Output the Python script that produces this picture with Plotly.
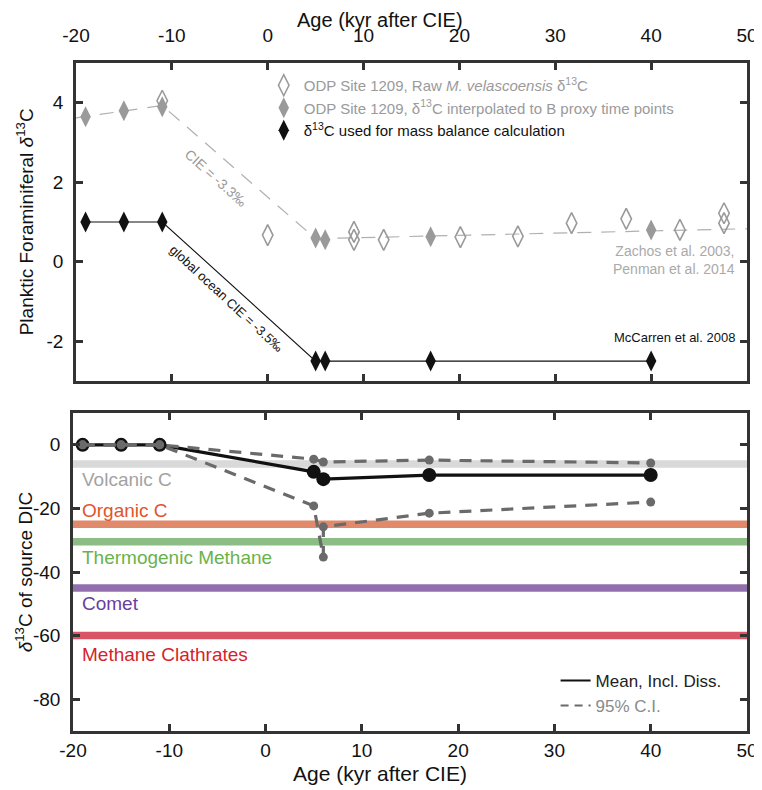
import plotly.graph_objects as go

# ---------------- Top panel data ----------------
raw_age = [-11.0, 0.0, 9.0, 9.0, 12.1, 20.1, 26.1, 31.7, 37.4, 43.0, 47.6, 47.6]
raw_d13c = [4.05, 0.67, 0.75, 0.55, 0.55, 0.62, 0.64, 0.97, 1.08, 0.80, 1.22, 0.97]

interp_age = [-19.0, -15.0, -11.0, 5.0, 6.0, 17.0, 40.0]
interp_d13c = [3.65, 3.80, 3.90, 0.60, 0.55, 0.63, 0.80]

used_age = [-19.0, -15.0, -11.0, 5.0, 6.0, 17.0, 40.0]
used_d13c = [1.0, 1.0, 1.0, -2.5, -2.5, -2.5, -2.5]

trend_age = [-20.0, -11.0, 5.0, 50.0]
trend_d13c = [3.62, 3.93, 0.58, 0.83]

# ---------------- Bottom panel data ----------------
mean_age = [-19.0, -15.0, -11.0, 5.0, 6.0, 17.0, 40.0]
mean_src = [0.0, 0.0, 0.0, -8.5, -10.8, -9.5, -9.5]

ci_up_age = [-19.0, -15.0, -11.0, 5.0, 6.0, 17.0, 40.0]
ci_up_src = [0.0, 0.0, 0.0, -4.5, -5.4, -4.8, -5.7]

ci_lo_age = [-19.0, -15.0, -11.0, 5.0, 6.0, 6.0, 17.0, 40.0]
ci_lo_src = [0.0, 0.0, 0.0, -19.2, -35.3, -25.8, -21.5, -18.0]

source_names = ["Volcanic C", "Organic C", "Thermogenic Methane", "Comet", "Methane Clathrates"]
source_values = [-6.0, -25.0, -30.5, -45.0, -60.0]
source_line_colors = ["#d9d9d9", "#e08a6b", "#8cbd84", "#9270ae", "#d95565"]
source_text_colors = ["#a3a3a3", "#e0552b", "#6ab24a", "#6a3d9e", "#d51f2b"]
source_label_offsets = [-4.8, 4.3, -5.0, -5.0, -5.8]   # label centre relative to line, in per-mil

x_ticks = [-20, -10, 0, 10, 20, 30, 40, 50]
x_tick_text = ["-20", "-10", "0", "10", "20", "30", "40", "50"]
top_y_ticks = [4, 2, 0, -2]
top_y_text = ["4", "2", "0", "-2"]
bot_y_ticks = [0, -20, -40, -60, -80]
bot_y_text = ["0", "-20", "-40", "-60", "-80"]

FONT = "Liberation Sans, Arial, sans-serif"
NARROW = "Liberation Sans Narrow, Liberation Sans, Arial, sans-serif"
AX = "#333333"

fig = go.Figure()

# top panel trend (dashed gray)
fig.add_trace(go.Scatter(x=trend_age, y=trend_d13c, mode="lines",
                         line=dict(color="#b0b0b0", width=1.2, dash="14px,10px"),
                         showlegend=False, xaxis="x", yaxis="y", hoverinfo="skip"))
# black used line
fig.add_trace(go.Scatter(x=used_age, y=used_d13c, mode="lines",
                         line=dict(color="#111111", width=1.1),
                         showlegend=False, xaxis="x", yaxis="y", hoverinfo="skip"))
# raw open diamonds
fig.add_trace(go.Scatter(x=raw_age, y=raw_d13c, mode="markers",
                         marker=dict(symbol="diamond-tall-open", size=15, color="#9a9a9a",
                                     line=dict(width=1.6, color="#9a9a9a")),
                         name='<span style="color:#9a9a9a">ODP Site 1209, Raw <i>M. velascoensis</i> δ<sup>13</sup>C</span>',
                         legend="legend", xaxis="x", yaxis="y"))
# interpolated filled gray diamonds
fig.add_trace(go.Scatter(x=interp_age, y=interp_d13c, mode="markers",
                         marker=dict(symbol="diamond-tall", size=15, color="#9a9a9a",
                                     line=dict(width=0)),
                         name='<span style="color:#9a9a9a">ODP Site 1209, δ<sup>13</sup>C interpolated to B proxy time points</span>',
                         legend="legend", xaxis="x", yaxis="y"))
# used black diamonds
fig.add_trace(go.Scatter(x=used_age, y=used_d13c, mode="markers",
                         marker=dict(symbol="diamond-tall", size=15, color="#111111",
                                     line=dict(width=0)),
                         name='<span style="color:#111111">δ<sup>13</sup>C used for mass balance calculation</span>',
                         legend="legend", xaxis="x", yaxis="y"))

# bottom panel source bands
for nm, v, c in zip(source_names, source_values, source_line_colors):
    fig.add_trace(go.Scatter(x=[x_ticks[0], x_ticks[-1]], y=[v, v], mode="lines",
                             line=dict(color=c, width=7.5), showlegend=False,
                             xaxis="x2", yaxis="y2", hoverinfo="skip"))

# mean
fig.add_trace(go.Scatter(x=mean_age, y=mean_src, mode="lines+markers",
                         line=dict(color="#111111", width=3.2),
                         marker=dict(size=14, color="#111111"),
                         showlegend=False, xaxis="x2", yaxis="y2"))
# CI
for xa, ya in [(ci_up_age, ci_up_src), (ci_lo_age, ci_lo_src)]:
    fig.add_trace(go.Scatter(x=xa, y=ya, mode="lines+markers",
                             line=dict(color="#6a6a6a", width=3.2, dash="12px,9px"),
                             marker=dict(size=9, color="#6a6a6a"),
                             showlegend=False, xaxis="x2", yaxis="y2"))

# bottom legend entries
fig.add_trace(go.Scatter(x=[None], y=[None], mode="lines",
                         line=dict(color="#111111", width=2),
                         name='<span style="color:#222">Mean, Incl. Diss.</span>',
                         legend="legend2", xaxis="x2", yaxis="y2"))
fig.add_trace(go.Scatter(x=[None], y=[None], mode="lines",
                         line=dict(color="#6a6a6a", width=2, dash="8px,6px"),
                         name='<span style="color:#8a8a8a">95% C.I.</span>',
                         legend="legend2", xaxis="x2", yaxis="y2"))

annotations = []
for nm, v, tc, off in zip(source_names, source_values, source_text_colors, source_label_offsets):
    annotations.append(dict(x=-19.3, y=v + off, xref="x2", yref="y2", text=nm,
                            showarrow=False, xanchor="left", yanchor="middle",
                            font=dict(family=FONT, size=19, color=tc)))

annotations += [
    dict(x=-5.4, y=2.1, xref="x", yref="y", text="CIE = -3.3‰", showarrow=False,
         textangle=42, font=dict(family=FONT, size=14, color="#9a9a9a")),
    dict(x=-4.3, y=-0.92, xref="x", yref="y", text="global ocean CIE = -3.5‰", showarrow=False,
         textangle=43, font=dict(family=FONT, size=13, color="#111111")),
    dict(x=49.0, y=0.05, xref="x", yref="y", text="Zachos et al. 2003,<br>Penman et al. 2014",
         showarrow=False, xanchor="right", align="right",
         font=dict(family=FONT, size=14, color="#aaaaaa")),
    dict(x=49.0, y=-1.9, xref="x", yref="y", text="McCarren et al. 2008",
         showarrow=False, xanchor="right",
         font=dict(family=FONT, size=13, color="#111111")),
    # axis titles
    dict(x=0.455, y=1.065, xref="paper", yref="paper", text="Age (kyr after CIE)",
         showarrow=False, xanchor="center", yanchor="middle",
         font=dict(family=NARROW, size=20, color="#111111")),
    dict(x=0.455, y=-0.0629, xref="paper", yref="paper", text="Age (kyr after CIE)",
         showarrow=False, xanchor="center", yanchor="middle",
         font=dict(family=NARROW, size=21, color="#111111")),
    dict(x=-0.0707, y=0.762, xref="paper", yref="paper",
         text="Planktic Foraminiferal <i>δ</i><sup>13</sup>C", textangle=-90,
         showarrow=False, xanchor="center", yanchor="middle",
         font=dict(family=FONT, size=19, color="#111111")),
    dict(x=-0.0722, y=0.238, xref="paper", yref="paper",
         text="<i>δ</i><sup>13</sup>C of source DIC", textangle=-90,
         showarrow=False, xanchor="center", yanchor="middle",
         font=dict(family=FONT, size=19, color="#111111")),
]

axis_common = dict(showline=True, linecolor=AX, linewidth=2.6, mirror="ticks",
                   ticks="inside", ticklen=7, tickwidth=2.6, tickcolor=AX,
                   showgrid=False, zeroline=False, automargin=False,
                   ticklabeloverflow="allow",
                   tickfont=dict(family=NARROW, size=19, color="#111111"))

# page body has an 8px margin, so the figure is 8px smaller than the window
fig.update_layout(
    width=754, height=782,
    margin=dict(l=65, r=15, t=55, b=59),
    paper_bgcolor="white", plot_bgcolor="white",
    font=dict(family=FONT, color="#111111"),
    xaxis=dict(domain=[0.0044, 1.0], range=[-20, 50], anchor="y", side="top",
               tickvals=x_ticks, ticktext=x_tick_text, ticklabelstandoff=11,
               **axis_common),
    yaxis=dict(domain=[0.524, 1.0], range=[-3, 5], anchor="x",
               tickvals=top_y_ticks, ticktext=top_y_text, ticklabelstandoff=6,
               **axis_common),
    xaxis2=dict(domain=[0.0, 1.0], range=[-20, 50], anchor="y2", side="bottom",
                tickvals=x_ticks, ticktext=x_tick_text, ticklabelstandoff=0,
                **axis_common),
    yaxis2=dict(domain=[0.0, 0.476], range=[-90, 10], anchor="x2",
                tickvals=bot_y_ticks, ticktext=bot_y_text, ticklabelstandoff=6,
                **axis_common),
    legend=dict(x=0.283, y=0.991, xanchor="left", yanchor="top",
                bgcolor="rgba(0,0,0,0)", font=dict(family=FONT, size=15),
                tracegroupgap=0, itemwidth=30),
    legend2=dict(x=0.716, y=0.102, xanchor="left", yanchor="top",
                 bgcolor="rgba(0,0,0,0)", font=dict(family=NARROW, size=17),
                 tracegroupgap=0, itemwidth=30),
    annotations=annotations,
    showlegend=True,
)

fig.write_html("out.html")
